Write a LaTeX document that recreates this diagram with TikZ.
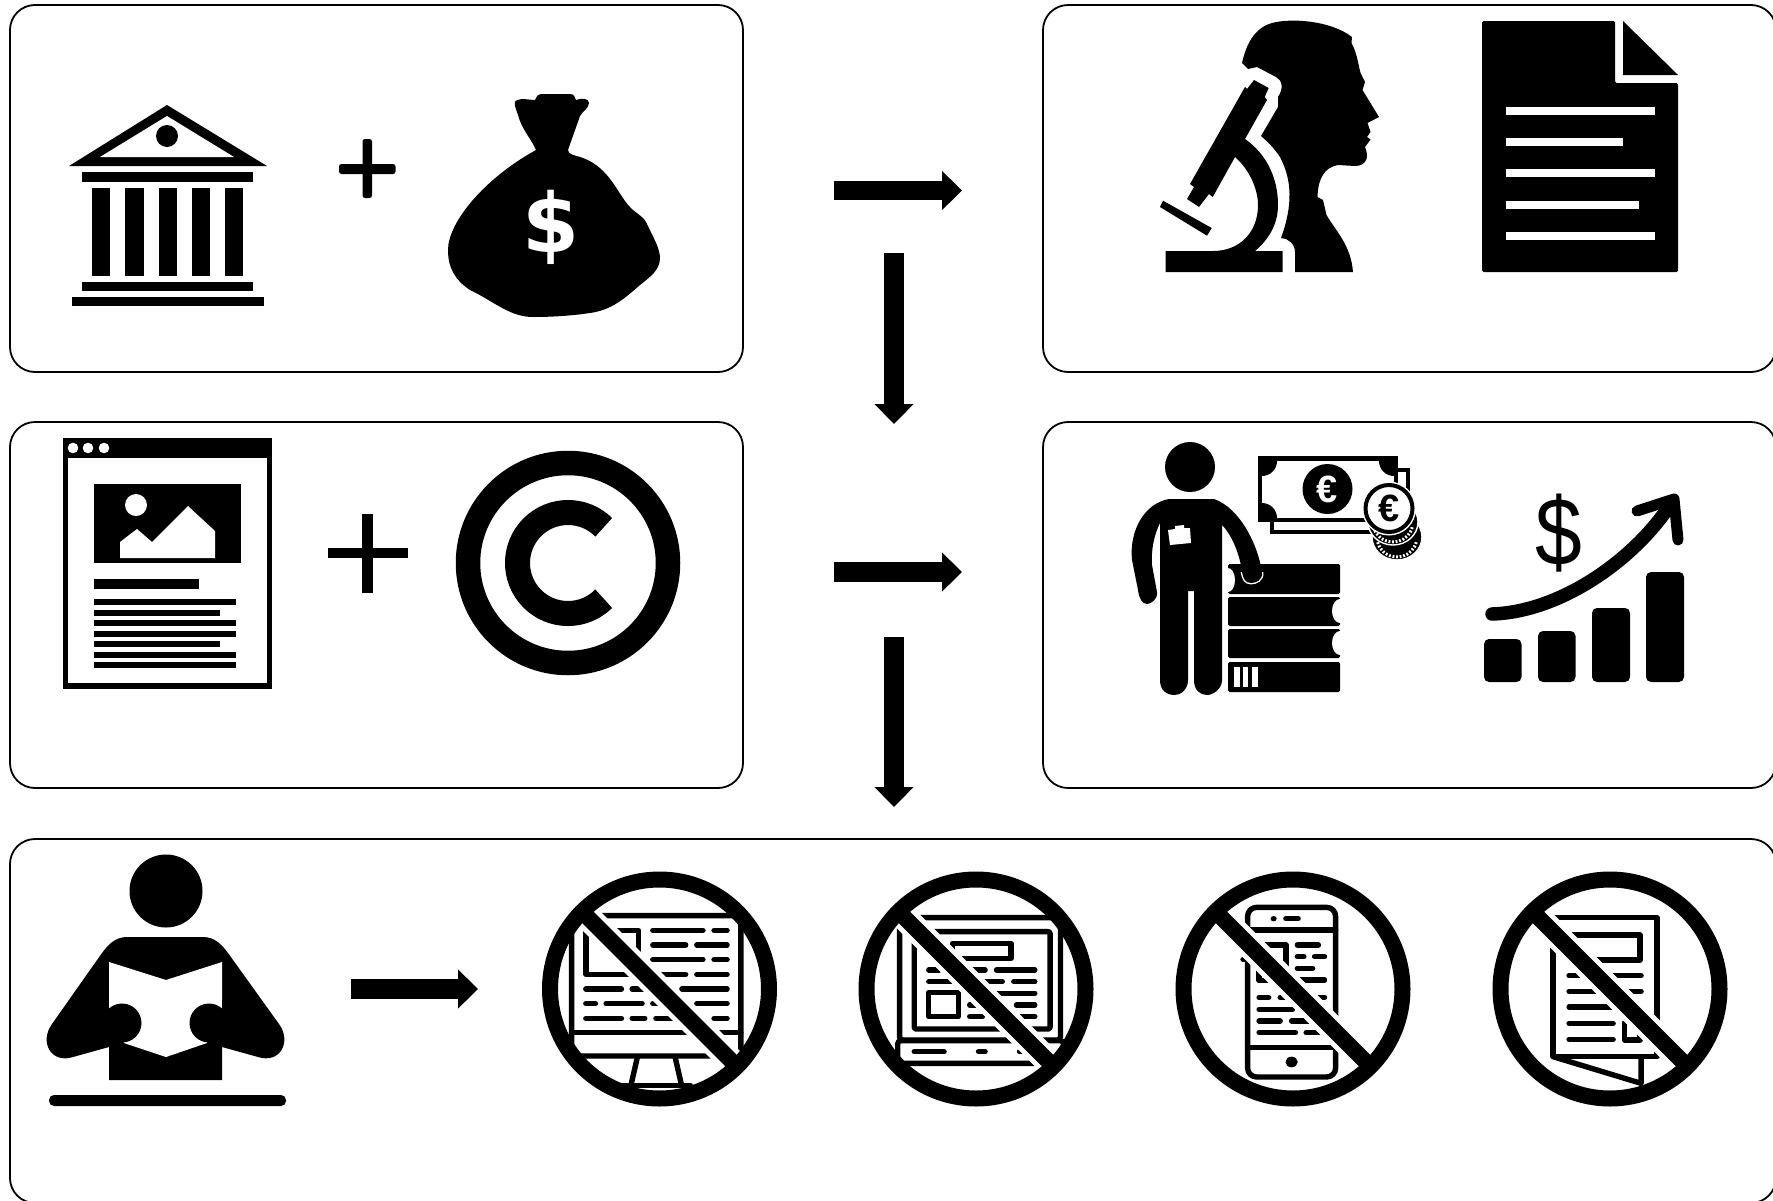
\documentclass[tikz,border=0pt]{standalone}
\usepackage{fontspec}
\setmainfont{Liberation Sans}
\newfontfamily\heavyfont{DejaVu Sans}
\usetikzlibrary{arrows.meta}
\tikzset{
  x=1pt,y=-1pt,
  panel/.style={draw=black,line width=1.8pt,rounded corners=25pt,fill=white},
  ink/.style={fill=black,draw=none},
  paper/.style={fill=white,draw=none},
  bigarrow/.style={draw=black,line width=19.5pt,-{Triangle[width=38pt,length=20pt]}},
  zfive/.style={shift={(520,850)},xscale=0.38275,yscale=0.33333},
  zsix/.style={shift={(1150,850)},xscale=0.38275,yscale=0.33333},
  thin icon/.style={draw=black,line width=5.4pt,line cap=round,line join=round},
  coinback/.style={draw=white,fill=black,line width=1.4pt},
  ridge/.style={draw=white,line width=3pt,dash pattern=on 1.8pt off 1.8pt},
}
\newcommand{\nomark}[1]{%
  \draw[white,line width=26pt] ([shift={(-77pt,77pt)}]#1) -- ([shift={(77pt,-77pt)}]#1);
  \draw[black,line width=16pt] ([shift={(-77pt,77pt)}]#1) -- ([shift={(77pt,-77pt)}]#1);
  \draw[black,line width=16pt] (#1) circle (109.5pt);
}
\begin{document}
\begin{tikzpicture}
\useasboundingbox (0,0) rectangle (1773,1200);
\fill[white] (0,0) rectangle (1773,1200);

% panels
\draw[panel] (10,5) rectangle (743,372);
\draw[panel] (1043,5) rectangle (1776,372);
\draw[panel] (10,422) rectangle (743,788);
\draw[panel] (1043,422) rectangle (1776,788);
\draw[panel] (10,839) rectangle (1776,1203);

% arrows
\coordinate (a1s) at (834,190.5); \coordinate (a1e) at (962,190.5);
\coordinate (a2s) at (894,253); \coordinate (a2e) at (894,424);
\coordinate (a3s) at (834,572); \coordinate (a3e) at (962,572);
\coordinate (a4s) at (894,637); \coordinate (a4e) at (894,807);
\coordinate (a5s) at (351,989); \coordinate (a5e) at (478,989);
\foreach \p/\q in {a1s/a1e,a2s/a2e,a3s/a3e,a4s/a4e,a5s/a5e}
  \draw[bigarrow] (\p) -- (\q);

% bank
\fill[ink] (167,105) -- (267,166) -- (69,166) -- cycle;
\fill[paper] (167,116) -- (234,157) -- (100,157) -- cycle;
\fill[ink] (167,136) circle (11pt);
\fill[ink] (82,172) rectangle (253,182);
\foreach \xa/\xb in {92/110,125/143.5,158.5/176.5,191.5/210,225/243}
  \fill[ink] (\xa,188) rectangle (\xb,276);
\fill[ink] (82,282) rectangle (253,291);
\fill[ink] (72,297) rectangle (264,306);

% plus 1
\fill[ink,rounded corners=2.5pt] (362.5,139) rectangle (372,198);
\fill[ink,rounded corners=2.5pt] (339,164) rectangle (395.5,174);

% money bag
\fill[ink] (541,94) -- (570,94) .. controls (574,94) and (575,97) .. (576,100)
  .. controls (581,98) and (589,98) .. (589,103) .. controls (589,108) and (582,112) .. (580,116)
  -- (568,150) .. controls (568,155) and (575,155) .. (583,158)
  .. controls (610,168) and (618,195) .. (630,207) .. controls (635,213) and (642,215) .. (646,222)
  .. controls (652,235) and (660,248) .. (660,258) .. controls (660,270) and (650,277) .. (640,285)
  .. controls (625,298) and (612,310) .. (590,313) .. controls (570,316) and (550,317) .. (533,317)
  .. controls (510,317) and (495,302) .. (470,290) .. controls (455,280) and (448,268) .. (448,250)
  .. controls (448,222) and (485,178) .. (536,150)
  .. controls (532,140) and (522,130) .. (518,115) .. controls (516,108) and (512,102) .. (517,100)
  .. controls (522,98) and (530,100) .. (535,100) .. controls (537,96) and (538,94) .. (541,94) -- cycle;
\node[text=white,font=\heavyfont\bfseries\fontsize{82}{82}\selectfont,inner sep=0pt] (bagdollar) at (551,227) {\$};

% scientist head
\fill[ink] (1242,63) .. controls (1246,45) and (1254,28) .. (1272,23) .. controls (1290,18) and (1330,20) .. (1352,37)
 -- (1351.5,43) .. controls (1358,55) and (1359,70) .. (1361,74) -- (1365,82) -- (1362.5,90) -- (1379,117) -- (1367.5,123)
 -- (1370.5,132) -- (1367,137) -- (1370.5,139.5) -- (1365,147) .. controls (1366,150) and (1368,155) .. (1366.5,159)
 .. controls (1365,164) and (1360,166) .. (1355,166) -- (1338,165) .. controls (1325,167) and (1318,178) .. (1317.5,197)
 -- (1323,200) -- (1326.5,215) .. controls (1335,230) and (1351,245) .. (1353,272) -- (1295,272) -- (1295,252)
 .. controls (1295,244) and (1288,238) .. (1281,238) .. controls (1293,205) and (1292,180) .. (1280,157)
 .. controls (1274,148) and (1268,142) .. (1261,136) -- (1278,107) -- (1278,97) .. controls (1284,88) and (1282,80) .. (1276,77)
 -- (1257,67) -- (1248,69) -- cycle;
% microscope
\fill[ink] (1245,139) .. controls (1268,155) and (1278,180) .. (1278,205)
  .. controls (1278,225) and (1268,240) .. (1255,251) -- (1282.7,251) -- (1282.7,272) -- (1165.7,272) -- (1165.7,251) -- (1213,251)
  .. controls (1240,251) and (1258,232) .. (1258,205) .. controls (1258,190) and (1250,170) .. (1235,157)
  -- (1212.7,197) -- (1209,194) -- (1199,207) -- (1187,199) -- (1194,187) -- (1190,184)
  -- (1245,87) -- (1247,89) -- (1254,80) -- (1268.7,88) -- (1264.7,97) -- (1267,100) -- cycle;
\fill[ink] (1163,200.7) -- (1211.7,228) -- (1207,235.7) -- (1160,207) -- cycle;

% document
\fill[ink,rounded corners=1.5pt] (1482,21) -- (1615,21) -- (1615,83) -- (1678,83) -- (1678,272) -- (1482,272) -- cycle;
\fill[ink] (1623,21) -- (1678,75) -- (1623,75) -- cycle;
\foreach \yy/\xx in {107/1654.5,138/1623,169/1654.5,201/1639,232/1654.5}
  \fill[paper] (1506,\yy) rectangle (\xx,\yy+8);

% web page
\fill[ink] (62.5,438) rectangle (272,689);
\fill[paper] (68,458) rectangle (267,683);
\foreach \xx in {73,88,104} \fill[paper] (\xx,448) circle (5.3pt);
\fill[ink] (94,484) rectangle (241,563);
\fill[paper] (136,505) circle (11pt);
\fill[paper] (120,558) -- (120,542) -- (137,529) -- (152,542) -- (188,506) -- (215,531) -- (215,558) -- cycle;
\fill[ink] (94,579) rectangle (199,589);
\foreach \yy/\xx in {602/236,613/220,623/236,634/236,644/220,655/236,665/236}
  \fill[ink] (94,\yy-2.9) rectangle (\xx,\yy+2.9);

% plus 2
\fill[ink] (362,514) rectangle (373,593);
\fill[ink] (328,548) rectangle (408,558);

% copyright
\draw[black,line width=24.5pt] (568,563) circle (100pt);
\draw[black,line width=25pt] (568,563) ++(45:50.5pt) arc[start angle=45,end angle=315,radius=50.5pt];

% books
\foreach \ya/\yb in {564/594,597/626,629/658,662/692}
  \fill[ink,rounded corners=1.5pt] (1228,\ya) rectangle (1340,\yb);
\fill[paper] (1228,580) ellipse [x radius=7pt,y radius=12pt];
\fill[paper] (1340,611) ellipse [x radius=8pt,y radius=12pt];
\fill[paper] (1340,643) ellipse [x radius=8pt,y radius=12pt];
\foreach \xa/\xb in {1233.5/1239.5,1242.5/1248,1251.5/1257.5}
  \fill[paper] (\xa,667) rectangle (\xb,687);

% person
\fill[ink] (1190,467) circle (25pt);
\draw[white,line width=2.8pt] (1262,572) .. controls (1263,580) and (1256,583) .. (1251,583) .. controls (1245,583) and (1243,578) .. (1242,572);
\fill[ink] (1169,499) -- (1214,499) .. controls (1240,508) and (1258,545) .. (1262,572)
  .. controls (1263,580) and (1256,583) .. (1251,583) .. controls (1245,583) and (1243,578) .. (1242,572)
  .. controls (1240,555) and (1232,535) .. (1222,525) -- (1222,680) .. controls (1222,690) and (1212,695) .. (1207,695)
  .. controls (1200,695) and (1194,690) .. (1194,680) -- (1194,591) -- (1188,591) -- (1188,680)
  .. controls (1188,690) and (1180,695) .. (1175,695) .. controls (1166,695) and (1160,690) .. (1160,680) -- (1160,523)
  .. controls (1154,535) and (1151,550) .. (1152,565) -- (1157,592) .. controls (1158,600) and (1150,604) .. (1147,604)
  .. controls (1142,604) and (1139,598) .. (1138,590) -- (1132,560) .. controls (1129,530) and (1145,503) .. (1169,499) -- cycle;
\fill[paper] (1168,530) -- (1175,529) -- (1175,526) -- (1184,525) -- (1184,528) -- (1190,528) -- (1191,543) -- (1170,545) -- cycle;

% banknotes
\draw[black,line width=4pt,fill=white] (1272,470) rectangle (1408,532);
\fill[ink] (1257.5,456) rectangle (1398,522);
\begin{scope}
  \clip (1262,461) rectangle (1394,518);
  \fill[paper] (1262,461) rectangle (1394,518);
  \foreach \cx/\cy in {1262/461,1394/461,1262/518,1394/518}
    \fill[ink] (\cx,\cy) circle (15pt);
\end{scope}
\fill[ink] (1327.5,489) circle (25pt);
\node[text=white,font=\bfseries\fontsize{38}{38}\selectfont,inner sep=0pt] (euroa) at (1327,489) {€};

% coins
\draw[coinback] (1397,537) ellipse [x radius=25pt,y radius=23pt];
\draw[ridge] (1397,537) ++(195:20pt) arc[start angle=195,end angle=345,radius=20pt];
\draw[coinback] (1393,522) ellipse [x radius=25pt,y radius=23pt];
\draw[ridge] (1393,522) ++(195:20pt) arc[start angle=195,end angle=345,radius=20pt];
\draw[white,line width=7pt] (1389,508.5) circle (23.5pt);
\draw[black,line width=4pt,fill=white] (1389,508.5) circle (23.5pt);
\node[text=black,font=\bfseries\fontsize{38}{38}\selectfont,inner sep=0pt] (eurob) at (1389,508.5) {€};

% rising chart
\foreach \xa/\xb/\yy in {1484/1521.5/639,1538/1575.5/631,1592/1630/608,1646/1684/572}
  \fill[ink,rounded corners=5pt] (\xa,\yy) rectangle (\xb,682);
\draw[black,line width=13.5pt,line cap=round] (1492,614) .. controls (1560,612) and (1635,560) .. (1672,502);
\draw[black,line width=11pt,line cap=round,line join=round] (1637,511) -- (1674,499) -- (1678,540);
\node[text=black,font=\fontsize{84}{84}\selectfont,inner sep=0pt,yscale=1.15] (riskdollar) at (1559,533) {\$};

% reader
\fill[ink] (166,891) circle (36.5pt);
\fill[ink] (127,937) -- (203,937) .. controls (215,937) and (222,945) .. (228,953) -- (279,1024)
  .. controls (292,1042) and (280,1064) .. (258,1057) -- (222,1047) -- (222,1080) -- (109,1080) -- (109,1047) -- (73,1057)
  .. controls (51,1064) and (39,1042) .. (52,1024) -- (102,953) .. controls (108,945) and (115,937) .. (127,937) -- cycle;
\fill[paper] (109,962) -- (166,980) -- (222,962) -- (222,1010) -- (207,1043) -- (166,1057) -- (124,1043) -- (109,1010) -- cycle;
\fill[ink] (209,1023) circle (19.5pt);
\fill[ink] (122,1023) circle (19.5pt);
\fill[ink] (222,1000) rectangle (240,1040);
\fill[ink] (91,1000) rectangle (109,1040);
\fill[ink,rounded corners=5pt] (49,1095) rectangle (286,1106);

% prohibited icons
\coordinate (n1) at (659.5,989);
\coordinate (n2) at (976,989);
\coordinate (n3) at (1293,989);
\coordinate (n4) at (1610,989);

% monitor
\begin{scope}
\clip (n1) circle (110pt);
\begin{scope}[zfive,thin icon]
 \draw[rounded corners=3pt] (135,197) rectangle (577,618);
 \draw (135,548) -- (577,548);
 \draw (307,620) -- (290,705); \draw (405,620) -- (422,705);
 \draw (268,706) -- (445,706);
 \draw (172,242) rectangle (310,373);
 \foreach \yy/\xa/\xb in {241/347/478,241/507/541,285/347/433,285/462/541,329/347/478,329/507/541,373/317/433,373/462/541,
   417/172/265,417/293/326,417/355/395,417/423/541,461/172/197,461/225/319,461/347/433,461/462/541,505/172/265,505/293/326,505/355/478,505/507/541}
   \draw (\xa,\yy) -- (\xb,\yy);
\end{scope}
\end{scope}
\nomark{n1}

% laptop
\begin{scope}
\clip (n2) circle (110pt);
\begin{scope}[zfive,thin icon]
 \draw[rounded corners=3pt] (992,203) rectangle (1412,570);
 \draw[rounded corners=2pt] (1030,245) rectangle (1385,537);
 \draw[rounded corners=3pt,fill=white] (987,572) rectangle (1420,640);
 \draw (1030,605) -- (1108,605); \draw (1198,605) -- (1215,605); \draw (1305,605) -- (1385,605);
 \draw (1130,280) rectangle (1283,325);
 \draw (1068,428) rectangle (1145,500);
 \foreach \yy/\xa/\xb in {360/1068/1095,360/1120/1215,360/1245/1345,395/1068/1140,395/1170/1260,395/1290/1345,
   430/1175/1345,465/1175/1268,465/1297/1345,500/1175/1208,500/1237/1345}
   \draw (\xa,\yy) -- (\xb,\yy);
\end{scope}
\end{scope}
\nomark{n2}

% phone
\begin{scope}
\begin{scope}[zsix,thin icon]
 \draw[rounded corners=9pt] (255,172) rectangle (485,681);
 \draw (255,240) -- (485,240); \draw (255,592) -- (485,592);
 \fill (323,206) circle (8pt);
 \draw (355,206) -- (387,206);
 \fill (370,636) circle (16pt);
 \draw (285,285) rectangle (355,392);
 \draw (243,295) -- (248,295); \draw (243,328) -- (248,328);
 \foreach \yy/\xa/\xb in {285/385/440,320/385/402,320/430/456,355/385/425,390/355/456,442/285/310,442/340/456,
   478/285/372,478/400/456,513/285/340,513/370/456,548/285/380,548/408/456}
   \draw (\xa,\yy) -- (\xb,\yy);
\end{scope}
\end{scope}
\nomark{n3}

% paper sheet
\begin{scope}
\clip (n4) circle (110pt);
\begin{scope}[zsix,thin icon]
 \draw (1053,203) -- (1325,203) -- (1325,620) -- (1053,620) -- cycle;
 \draw (1053,620) -- (1283,700) -- (1283,620);
 \draw (1095,255) rectangle (1280,330);
 \foreach \yy/\xa/\xb in {377/1095/1283,424/1095/1283,471/1095/1283,520/1095/1210,568/1095/1210}
   \draw (\xa,\yy) -- (\xb,\yy);
 \draw (1240,518) rectangle (1280,570);
\end{scope}
\end{scope}
\nomark{n4}
\end{tikzpicture}
\end{document}
